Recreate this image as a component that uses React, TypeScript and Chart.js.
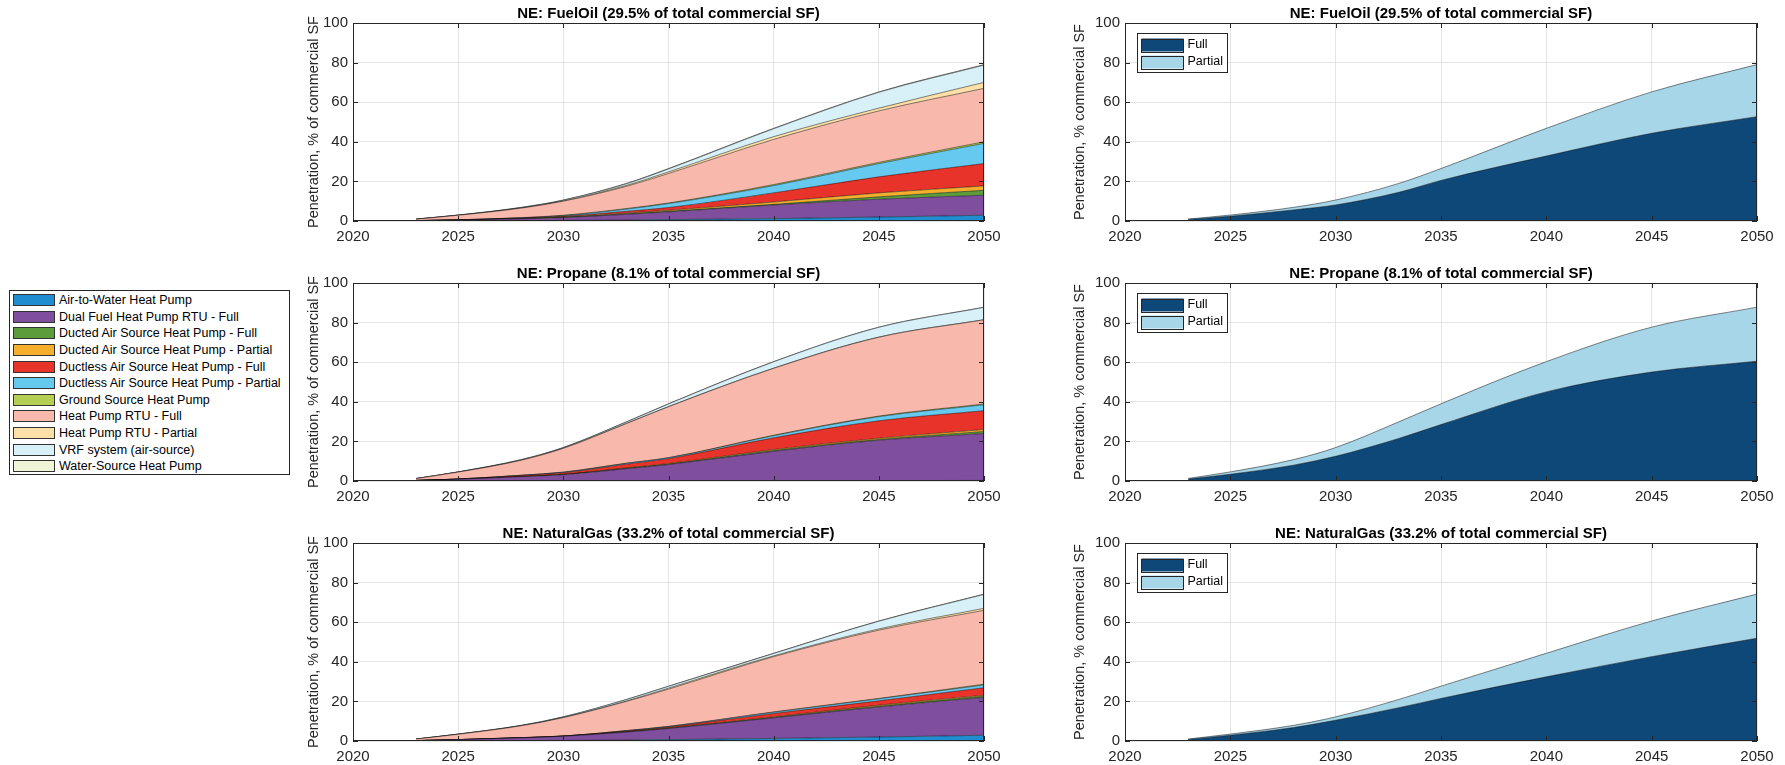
import React, { useEffect, useRef } from "react";
import { Chart, registerables } from "chart.js";
Chart.register(...registerables);

const FONT = '"Liberation Sans", Arial, Helvetica, sans-serif';

// ---------- data ----------
const years = [2023, 2025, 2028, 2030, 2033, 2035, 2040, 2045, 2050];
const xTicks = [2020, 2025, 2030, 2035, 2040, 2045, 2050];
const yTicks = [0, 20, 40, 60, 80, 100];

const technologies = [
  "Air-to-Water Heat Pump",
  "Dual Fuel Heat Pump RTU - Full",
  "Ducted Air Source Heat Pump - Full",
  "Ducted Air Source Heat Pump - Partial",
  "Ductless Air Source Heat Pump - Full",
  "Ductless Air Source Heat Pump - Partial",
  "Ground Source Heat Pump",
  "Heat Pump RTU - Full",
  "Heat Pump RTU - Partial",
  "VRF system (air-source)",
  "Water-Source Heat Pump",
];
const techColors = [
  "#1f8dd0", "#7f4f9e", "#5d9c3a", "#f6ae2d", "#e8332a", "#66c9f0",
  "#b5cf52", "#f8b9ac", "#fde0a8", "#d8f1f9", "#eff5d6",
];
const fullPartialLabels = ["Full", "Partial"];
const fullPartialColors = ["#0e4879", "#a6d6e8"];

// FuelOil (29.5%)
const fuelOilAirToWater = [0, 0.1, 0.2, 0.3, 0.5, 0.7, 1.2, 2.0, 2.9];
const fuelOilDualFuel = [0.2, 0.4, 0.9, 1.4, 2.9, 3.9, 6.9, 9.0, 10.1];
const fuelOilDuctedFull = [0, 0, 0.1, 0.2, 0.2, 0.3, 0.3, 1.2, 2.5];
const fuelOilDuctedPartial = [0, 0, 0.1, 0.1, 0.4, 0.5, 1.2, 2.0, 2.2];
const fuelOilDuctlessFull = [0, 0.1, 0.2, 0.4, 0.9, 1.4, 4.6, 8.1, 11.3];
const fuelOilDuctlessPartial = [0, 0, 0.1, 0.3, 1.1, 2.0, 3.7, 6.7, 10.2];
const fuelOilGround = [0, 0, 0.1, 0.2, 0.3, 0.3, 0.5, 0.6, 0.8];
const fuelOilRtuFull = [0.7, 2.3, 4.8, 7.1, 11.2, 14.9, 22.8, 26.0, 27.0];
const fuelOilRtuPartial = [0, 0, 0.1, 0.1, 0.5, 0.8, 1.4, 1.4, 3.0];
const fuelOilVrf = [0.1, 0.1, 0.2, 0.4, 0.8, 1.5, 4.0, 8.0, 8.7];
const fuelOilWshp = [0, 0, 0.1, 0.1, 0.2, 0.2, 0.2, 0.2, 0.3];
const fuelOilFull = [0.8, 2.4, 5.6, 8.1, 14.5, 20.5, 32.8, 44.3, 52.7];
const fuelOilPartial = [0.2, 0.6, 1.3, 2.5, 4.5, 6.0, 14.0, 20.9, 26.3];

// Propane (8.1%)
const propaneAirToWater = [0, 0, 0, 0, 0, 0.05, 0.1, 0.2, 0.3];
const propaneDualFuel = [0.3, 0.9, 2.2, 3.2, 6.2, 8.25, 14.9, 20.4, 23.7];
const propaneDuctedFull = [0, 0, 0, 0.1, 0.2, 0.2, 0.4, 0.4, 1.0];
const propaneDuctedPartial = [0, 0, 0.1, 0.1, 0.2, 0.3, 0.5, 0.6, 1.0];
const propaneDuctlessFull = [0, 0.1, 0.5, 0.8, 1.9, 2.5, 5.9, 8.8, 9.5];
const propaneDuctlessPartial = [0, 0, 0.1, 0.2, 0.4, 0.4, 1.1, 2.1, 3.0];
const propaneGround = [0, 0, 0, 0.1, 0.1, 0.1, 0.2, 0.3, 0.4];
const propaneRtuFull = [0.9, 3.5, 7.6, 12.0, 20.0, 25.7, 33.8, 39.8, 42.5];
const propaneRtuPartial = [0, 0, 0, 0.1, 0.1, 0.1, 0.1, 0.1, 0.1];
const propaneVrf = [0.1, 0.1, 0.3, 0.3, 0.7, 1.3, 3.2, 4.9, 6.2];
const propaneWshp = [0, 0, 0, 0, 0.1, 0.1, 0.1, 0.1, 0.1];
const propaneFull = [1.0, 3.4, 8.0, 12.5, 21.5, 28.5, 45.0, 55.0, 60.5];
const propanePartial = [0.3, 1.2, 2.8, 4.4, 8.4, 10.5, 15.3, 22.7, 27.3];

// NaturalGas (33.2%)
const gasAirToWater = [0, 0.1, 0.2, 0.3, 0.5, 0.7, 1.3, 2.0, 2.9];
const gasDualFuel = [0.2, 0.6, 1.4, 2.1, 4.0, 5.6, 10.4, 15.2, 19.1];
const gasDuctedFull = [0, 0, 0, 0, 0.1, 0.1, 0.2, 0.4, 0.6];
const gasDuctedPartial = [0, 0, 0, 0.1, 0.1, 0.2, 0.3, 0.5, 0.5];
const gasDuctlessFull = [0, 0, 0.1, 0, 0.3, 0.5, 1.7, 2.2, 3.8];
const gasDuctlessPartial = [0, 0, 0, 0, 0.2, 0.2, 0.6, 1.0, 1.4];
const gasGround = [0, 0, 0, 0, 0.1, 0.1, 0.2, 0.2, 0.4];
const gasRtuFull = [0.8, 2.7, 6.0, 9.3, 14.7, 18.8, 27.9, 34.5, 37.3];
const gasRtuPartial = [0, 0, 0, 0.1, 0.2, 0.5, 0.4, 0.6, 1.0];
const gasVrf = [0, 0.1, 0.2, 0.3, 0.7, 0.9, 1.2, 3.9, 7.0];
const gasWshp = [0, 0, 0, 0, 0.1, 0.1, 0.1, 0.1, 0.2];
const gasFull = [0.8, 2.9, 6.8, 10.5, 16.8, 21.5, 32.4, 42.6, 51.9];
const gasPartial = [0.2, 0.6, 1.1, 1.7, 4.2, 6.2, 11.9, 18.0, 22.3];

// ---------- layout ----------
const Y_W = 55;
const TITLE_H = 23;
const X_H = 25;
const PAD_R = 25;
const PLOT_H = 198;
const LEFT_X = 353;
const RIGHT_X = 1125;
const LEFT_W = 631;
const RIGHT_W = 632;
const ROW_TOPS = [23, 283, 543];

const framePlugin = {
  id: "frame",
  afterDatasetsDraw(chart: any) {
    const { ctx, chartArea: a, scales } = chart;
    ctx.save();
    ctx.strokeStyle = "#262626";
    ctx.lineWidth = 1;
    const tl = 5;
    ctx.beginPath();
    xTicks.forEach((v) => {
      const px = Math.round(scales.x.getPixelForValue(v)) + 0.5;
      ctx.moveTo(px, a.bottom);
      ctx.lineTo(px, a.bottom - tl);
      ctx.moveTo(px, a.top);
      ctx.lineTo(px, a.top + tl);
    });
    yTicks.forEach((v) => {
      const py = Math.round(scales.y.getPixelForValue(v)) + 0.5;
      ctx.moveTo(a.left, py);
      ctx.lineTo(a.left + tl, py);
      ctx.moveTo(a.right, py);
      ctx.lineTo(a.right - tl, py);
    });
    ctx.stroke();
    ctx.strokeRect(
      Math.round(a.left) + 0.5,
      Math.round(a.top) + 0.5,
      Math.round(a.right - a.left) - 1,
      Math.round(a.bottom - a.top) - 1
    );
    ctx.restore();
  },
};

const boxLegendPlugin = {
  id: "boxLegend",
  afterDraw(chart: any, _args: any, opts: any) {
    if (!opts || !opts.items) return;
    const { ctx, chartArea: a } = chart;
    const x = Math.round(a.left) + 12.5;
    const y = Math.round(a.top) + 10.5;
    const w = 90;
    const rowH = 17;
    const h = opts.items.length * rowH + 5;
    ctx.save();
    ctx.fillStyle = "#ffffff";
    ctx.fillRect(x, y, w, h);
    ctx.strokeStyle = "#262626";
    ctx.lineWidth = 1;
    ctx.strokeRect(x, y, w, h);
    ctx.font = `12.5px ${FONT}`;
    ctx.textBaseline = "middle";
    opts.items.forEach((it: any, i: number) => {
      const cy = y + 3 + i * rowH + rowH / 2;
      ctx.fillStyle = it.color;
      ctx.fillRect(x + 4, cy - 6.5, 42, 13);
      ctx.strokeStyle = "#262626";
      ctx.strokeRect(x + 4, Math.round(cy - 6.5) + 0.5, 42, 13);
      ctx.fillStyle = "#000";
      ctx.fillText(it.label, x + 50, cy);
    });
    ctx.restore();
  },
};

type PanelProps = {
  left: number;
  top: number;
  width: number;
  title: string;
  yLabel: string;
  yTitlePad: number;
  series: number[][];
  labels: string[];
  colors: string[];
  boxLegend?: boolean;
};

function Panel(p: PanelProps) {
  const ref = useRef<HTMLCanvasElement>(null);
  const W = Y_W + p.width + PAD_R;
  const H = TITLE_H + PLOT_H + X_H;
  useEffect(() => {
    const datasets = p.series.map((vals, i) => ({
      label: p.labels[i],
      data: years.map((yr, j) => ({ x: yr, y: vals[j] })),
      backgroundColor: p.colors[i],
      borderColor: "rgba(0,0,0,0.8)",
      borderWidth: 0.6,
      fill: i === 0 ? "origin" : "-1",
      pointRadius: 0,
      pointHoverRadius: 0,
      cubicInterpolationMode: "monotone" as const,
    }));
    const chart = new Chart(ref.current as HTMLCanvasElement, {
      type: "line",
      data: { datasets },
      plugins: [framePlugin, boxLegendPlugin],
      options: {
        animation: false,
        responsive: false,
        maintainAspectRatio: false,
        devicePixelRatio: 1,
        events: [],
        layout: { padding: { left: 0, top: 0, right: PAD_R, bottom: 0 } },
        plugins: {
          legend: { display: false },
          tooltip: { enabled: false },
          title: {
            display: true,
            text: p.title,
            fullSize: false,
            color: "#000",
            font: { family: FONT, size: 15, weight: "bold" },
            padding: { top: 5, bottom: 0 },
          },
          boxLegend: p.boxLegend
            ? { items: p.labels.map((l, i) => ({ label: l, color: p.colors[i] })) }
            : null,
        } as any,
        scales: {
          x: {
            type: "linear",
            min: 2020,
            max: 2050,
            afterBuildTicks: (s: any) => {
              s.ticks = xTicks.map((v) => ({ value: v }));
            },
            afterFit: (s: any) => {
              s.height = X_H;
              s.paddingLeft = 0;
              s.paddingRight = 0;
            },
            ticks: {
              autoSkip: false,
              maxRotation: 0,
              padding: 6.5,
              color: "#262626",
              font: { family: FONT, size: 15 },
              callback: (v: any) => String(v),
            },
            grid: { color: "#e4e4e4", drawTicks: false },
            border: { display: false },
          },
          y: {
            type: "linear",
            stacked: true,
            min: 0,
            max: 100,
            afterBuildTicks: (s: any) => {
              s.ticks = yTicks.map((v) => ({ value: v }));
            },
            afterFit: (s: any) => {
              s.width = Y_W;
              s.paddingTop = 0;
              s.paddingBottom = 0;
            },
            ticks: {
              padding: 5,
              color: "#262626",
              font: { family: FONT, size: 15 },
              callback: (v: any) => String(v),
            },
            grid: { color: "#e4e4e4", drawTicks: false },
            border: { display: false },
            title: {
              display: true,
              text: p.yLabel,
              color: "#262626",
              font: { family: FONT, size: 14.5 },
              padding: { top: p.yTitlePad, bottom: 0 },
            },
          },
        },
      } as any,
    });
    return () => chart.destroy();
  }, []);
  return (
    <canvas
      ref={ref}
      width={W}
      height={H}
      style={{ position: "absolute", left: p.left - Y_W, top: p.top - TITLE_H, width: W, height: H }}
    />
  );
}

const fuelOilSeries = [
  fuelOilAirToWater, fuelOilDualFuel, fuelOilDuctedFull, fuelOilDuctedPartial,
  fuelOilDuctlessFull, fuelOilDuctlessPartial, fuelOilGround, fuelOilRtuFull,
  fuelOilRtuPartial, fuelOilVrf, fuelOilWshp,
];
const propaneSeries = [
  propaneAirToWater, propaneDualFuel, propaneDuctedFull, propaneDuctedPartial,
  propaneDuctlessFull, propaneDuctlessPartial, propaneGround, propaneRtuFull,
  propaneRtuPartial, propaneVrf, propaneWshp,
];
const gasSeries = [
  gasAirToWater, gasDualFuel, gasDuctedFull, gasDuctedPartial,
  gasDuctlessFull, gasDuctlessPartial, gasGround, gasRtuFull,
  gasRtuPartial, gasVrf, gasWshp,
];

const fuels = [
  { title: "NE: FuelOil (29.5% of total commercial SF)", tech: fuelOilSeries, fp: [fuelOilFull, fuelOilPartial] },
  { title: "NE: Propane (8.1% of total commercial SF)", tech: propaneSeries, fp: [propaneFull, propanePartial] },
  { title: "NE: NaturalGas (33.2% of total commercial SF)", tech: gasSeries, fp: [gasFull, gasPartial] },
];

export default function App() {
  return (
    <div
      style={{
        position: "fixed",
        left: 0,
        top: 0,
        width: 1785,
        height: 765,
        background: "#fff",
        overflow: "hidden",
      }}
    >
      {fuels.map((f, r) => (
        <React.Fragment key={f.title}>
          <Panel
            left={LEFT_X}
            top={ROW_TOPS[r]}
            width={LEFT_W}
            title={f.title}
            yLabel="Penetration, % of commercial SF"
            yTitlePad={7.3}
            series={f.tech}
            labels={technologies}
            colors={techColors}
          />
          <Panel
            left={RIGHT_X}
            top={ROW_TOPS[r]}
            width={RIGHT_W}
            title={f.title}
            yLabel="Penetration, % commercial SF"
            yTitlePad={1.3}
            series={f.fp}
            labels={fullPartialLabels}
            colors={fullPartialColors}
            boxLegend
          />
        </React.Fragment>
      ))}
      <div
        style={{
          position: "absolute",
          left: 9,
          top: 290,
          width: 279,
          height: 183,
          border: "1px solid #262626",
          background: "#fff",
          fontFamily: FONT,
          fontSize: 12.5,
          color: "#000",
        }}
      >
        {technologies.map((t, i) => (
          <div
            key={t}
            style={{
              position: "absolute",
              left: 3,
              top: 1 + i * 16.6,
              height: 16.6,
              display: "flex",
              alignItems: "center",
              whiteSpace: "nowrap",
            }}
          >
            <span
              style={{
                display: "inline-block",
                width: 42,
                height: 12,
                background: techColors[i],
                border: "1px solid #333",
                boxSizing: "border-box",
                marginRight: 4,
              }}
            />
            <span>{t}</span>
          </div>
        ))}
      </div>
    </div>
  );
}
